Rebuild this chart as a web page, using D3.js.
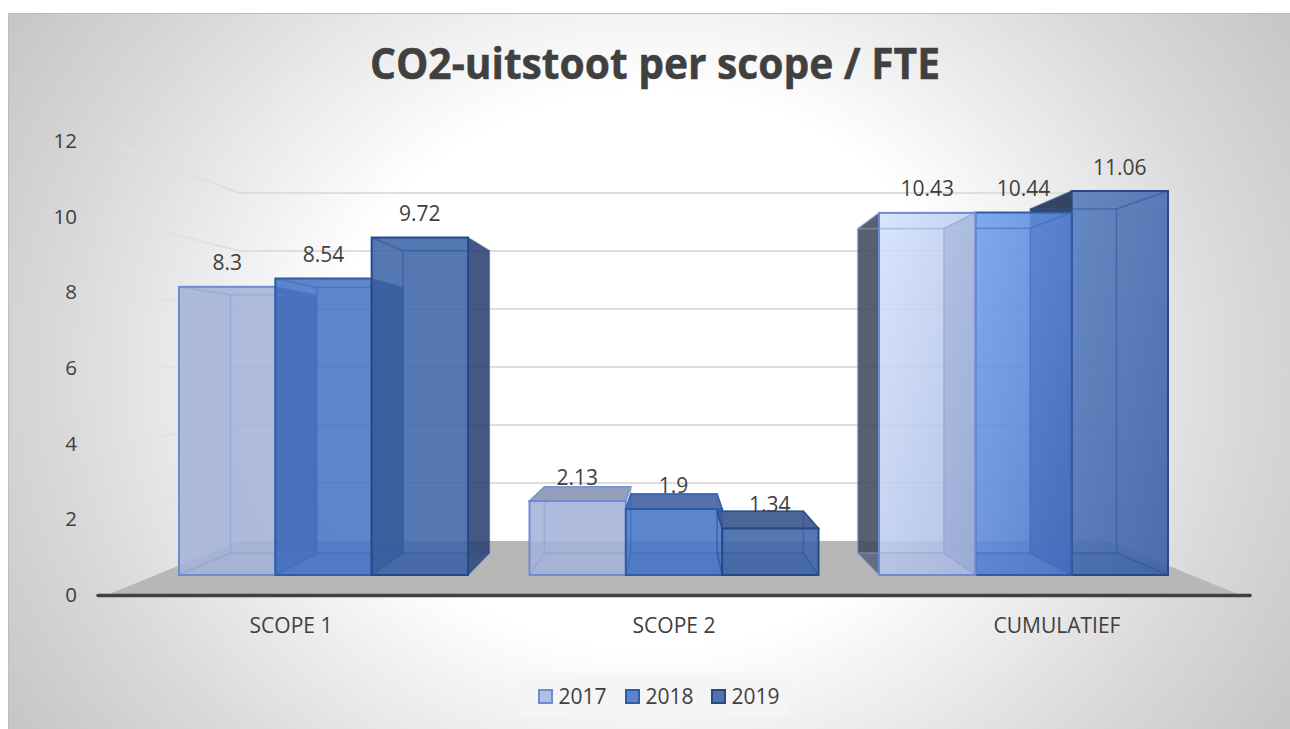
<!DOCTYPE html>
<html><head><meta charset="utf-8">
<script src="https://cdn.jsdelivr.net/npm/d3@7/dist/d3.min.js"></script>
<style>html,body{margin:0;padding:0;background:#fff}svg{display:block}text{font-family:"Open Sans",sans-serif;fill:#404040}</style>
</head><body><div id="c"></div>
<script>
const categories = ["SCOPE 1","SCOPE 2","CUMULATIEF"];
const seriesNames = ["2017","2018","2019"];
const values2017 = [8.3,2.13,10.43];
const values2018 = [8.54,1.9,10.44];
const values2019 = [9.72,1.34,11.06];
const yTicks = [0,2,4,6,8,10,12];
const titleText = "CO2-uitstoot per scope / FTE";

const W=1290,H=729,cx=673.5;
const svg=d3.select("#c").append("svg").attr("width",W).attr("height",H);
const defs=svg.append("defs");
const bg=defs.append("radialGradient").attr("id","bg").attr("gradientUnits","userSpaceOnUse")
  .attr("cx",650).attr("cy",370).attr("r",790).attr("gradientTransform","translate(650 370) scale(1 .88) translate(-650 -370)");
[[0,"#fff"],[.4,"#fff"],[.75,"#d9d9d9"],[1,"#c2c2c2"]].forEach(s=>bg.append("stop").attr("offset",s[0]).attr("stop-color",s[1]));
svg.append("rect").attr("x",8).attr("y",13).attr("width",W-8).attr("height",H-13).attr("fill","url(#bg)");
svg.append("path").attr("d","M8.5 729V13.5H1290").attr("fill","none").attr("stroke","#bdbdbd").attr("stroke-width",1);

// planes: y scales for axis plane, bar front, bar back and wall
const yAxis=d3.scaleLinear().domain([0,12]).range([595,141]);
const yFront=d3.scaleLinear().domain([0,12]).range([575,575-34.72*12]);
const yBack=d3.scaleLinear().domain([0,12]).range([553,553-31.1*12]);
const yWall=d3.scaleLinear().domain([0,12]).range([541,193]);
const xCat=d3.scalePoint().domain(categories).range([179,879]);
const xSer=d3.scaleBand().domain(seriesNames).range([0,289]);
const backX=x=>cx+(x-cx)*0.896;
const wallL=cx-434.5, wallR=cx+434.5;

// floor
svg.append("path").attr("fill","#b7b7b7")
 .attr("d",d3.line()([[107,yAxis(0)],[wallL,yWall(0)],[wallR,yWall(0)],[1240,yAxis(0)]])+"Z");
// gridlines
const gridG=svg.append("g").attr("fill","none").attr("stroke","#dedede").attr("stroke-width",2);
const fade=defs.append("linearGradient").attr("id","fade").attr("gradientUnits","userSpaceOnUse").attr("x1",107).attr("x2",wallL).attr("y1",0).attr("y2",0);
fade.append("stop").attr("offset",0).attr("stop-color","#e2e2e2").attr("stop-opacity",.45);
fade.append("stop").attr("offset",1).attr("stop-color","#dedede");
yTicks.filter(d=>d>0).forEach(t=>{
  gridG.append("line").attr("x1",wallL).attr("x2",wallR).attr("y1",yWall(t)).attr("y2",yWall(t));
  gridG.append("line").attr("x1",107).attr("x2",wallL).attr("y1",yAxis(t)).attr("y2",yWall(t)).attr("stroke","url(#fade)");
});
// axis line
svg.append("line").attr("x1",98).attr("x2",1250).attr("y1",595.5).attr("y2",595.5).attr("stroke","#404040").attr("stroke-width",3.5).attr("stroke-linecap","round");

// axes
const yA=d3.axisLeft(yAxis).tickValues(yTicks).tickSize(0).tickPadding(0);
const yG=svg.append("g").attr("transform","translate(77,0)").call(yA);
yG.select(".domain").remove();
yG.selectAll("text").attr("font-size",20.5).attr("style",'font-family:"Open Sans";fill:#404040');
const xLabelPos=d3.scaleOrdinal().domain(categories).range([291,674,1057]);
svg.selectAll(".cat").data(categories).join("text").attr("class","cat")
  .attr("x",d=>xLabelPos(d)).attr("y",626).attr("dy",".35em").attr("text-anchor","middle").attr("font-size",21).text(d=>d);

const styles={
 "2017":{stroke:"#6f8bcf",edge:"#8d9fd6",outerR:"#414a5c",outerL:"#414a5c",top:"#8d9ab8"},
 "2018":{stroke:"#2f5ba8",edge:"#3a68b8",outerR:"#1f3560",outerL:"#1f3560",top:"#4c6aa6"},
 "2019":{stroke:"#264a87",edge:"#2c5597",outerR:"#2b4170",outerL:"#1c2c50",top:"#415d91"}};
const flats={"2017":"#a3b2d9","2018":"#4574c6","2019":"#3c63a6"};
const grads={"2017":["#d1e1fe","#a8b8e1"],"2018":["#6d9dee","#4871c7"],"2019":["#5279bc","#365ca2"]};
const legendFills={"2017":"#b1bfe1","2018":"#5c85cc","2019":"#5273ae"};
seriesNames.forEach(s=>{
  const g=defs.append("linearGradient").attr("id","g"+s).attr("x1",0).attr("y1",0).attr("x2",1).attr("y2",1);
  g.append("stop").attr("offset",0).attr("stop-color",grads[s][0]);
  g.append("stop").attr("offset",1).attr("stop-color",grads[s][1]);
});
const valuesBy={"2017":values2017,"2018":values2018,"2019":values2019};
const line=pts=>d3.line()(pts)+"Z";

categories.forEach((cat,ci)=>{
  const isRight=ci===2;
  const order=isRight?[...seriesNames].reverse():seriesNames;
  order.forEach(s=>{
    const v=valuesBy[s][ci], st=styles[s];
    const xl=xCat(cat)+xSer(s)+(ci===1?0.5:0), xr=xl+xSer.bandwidth();
    const bl=backX(xl), br=backX(xr);
    const ft=yFront(v), fb=yFront(0), bt=yBack(v), bb=yBack(0);
    const g=svg.append("g");
    // outer side face
    const sideFront=isRight?xl:xr, sideBack=isRight?bl:br;
    if(ci!==1){
      g.append("path").attr("d",line([[sideFront,ft],[sideBack,bt],[sideBack,bb],[sideFront,fb]]))
       .attr("fill",isRight?st.outerL:st.outerR).attr("fill-opacity",.88);
    }
    // top face, seen from above only on low bars
    const seeTop=bt<ft;
    if(seeTop){
      g.append("path").attr("d",line([[xl,ft],[xr,ft],[br,bt],[bl,bt]]))
       .attr("fill",st.top).attr("fill-opacity",.95).attr("stroke",st.stroke).attr("stroke-width",1.5);
    }
    // front
    g.append("rect").attr("x",xl).attr("y",ft).attr("width",xr-xl).attr("height",fb-ft)
     .attr("fill",isRight?`url(#g${s})`:flats[s]).attr("fill-opacity",.87);
    // bottom face seen through the front
    g.append("path").attr("d",line([[xl,fb],[xr,fb],[br,bb],[bl,bb]]))
     .attr("fill",flats[s]).attr("fill-opacity",.25);
    // inner edges
    const e=g.append("g").attr("fill","none").attr("stroke",st.edge).attr("stroke-opacity",.55).attr("stroke-width",1.5);
    e.append("rect").attr("x",bl).attr("y",bt).attr("width",br-bl).attr("height",bb-bt);
    [[xl,ft,bl,bt],[xr,ft,br,bt],[xl,fb,bl,bb],[xr,fb,br,bb]].forEach(p=>
      e.append("line").attr("x1",p[0]).attr("y1",p[1]).attr("x2",p[2]).attr("y2",p[3]));
    g.append("rect").attr("x",xl).attr("y",ft).attr("width",xr-xl).attr("height",fb-ft)
     .attr("fill","none").attr("stroke",st.stroke).attr("stroke-width",2);
  });
  seriesNames.forEach(s=>{
    const v=valuesBy[s][ci];
    svg.append("text").attr("class","lab").attr("x",xCat(cat)+xSer(s)+xSer.bandwidth()/2).attr("y",yFront(v)-24).attr("dy",".36em")
      .attr("text-anchor","middle").attr("font-size",21).text(String(v));
  });
});
// labels above all bars
svg.selectAll(".lab").raise();

// title
svg.append("text").attr("x",655).attr("y",78.5).attr("text-anchor","middle")
  .attr("font-size",43.5).attr("font-weight",700).attr("stroke","#404040").attr("stroke-width",.5)
  .attr("textLength",570).attr("lengthAdjust","spacingAndGlyphs").text(titleText);

// legend
svg.append("rect").attr("x",519).attr("y",673).attr("width",271).attr("height",43).attr("fill","#f5f5f5");
const lx=d3.scaleOrdinal().domain(seriesNames).range([539,626,712]);
seriesNames.forEach(s=>{
  svg.append("rect").attr("x",lx(s)).attr("y",690).attr("width",13).attr("height",13)
    .attr("fill",legendFills[s]).attr("stroke",styles[s].stroke).attr("stroke-width",2);
  svg.append("text").attr("x",lx(s)+19.5).attr("y",696).attr("dy",".36em").attr("font-size",21).text(s);
});
</script></body></html>
